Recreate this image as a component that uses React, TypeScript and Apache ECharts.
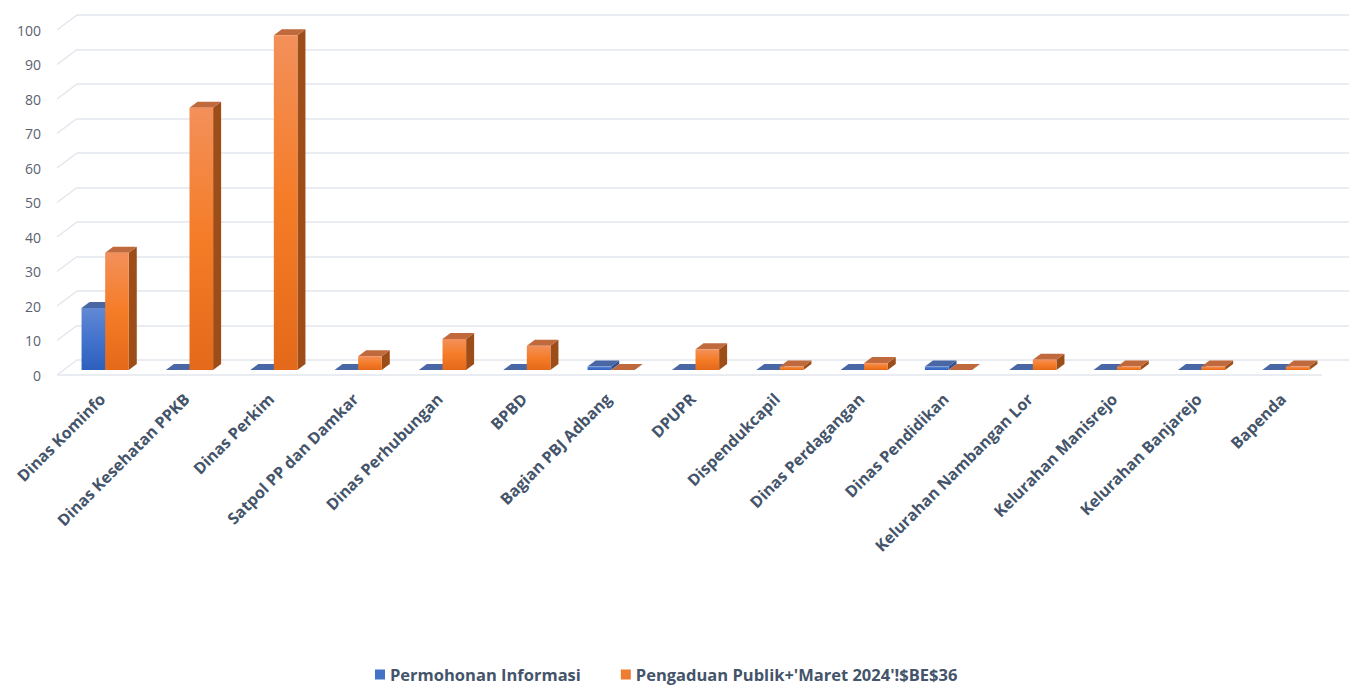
import React, { useEffect, useRef } from "react";
import * as echarts from "echarts";

const categories = [
  "Dinas Kominfo",
  "Dinas Kesehatan PPKB",
  "Dinas Perkim",
  "Satpol PP dan Damkar",
  "Dinas Perhubungan",
  "BPBD",
  "Bagian PBJ Adbang",
  "DPUPR",
  "Dispendukcapil",
  "Dinas Perdagangan",
  "Dinas Pendidikan",
  "Kelurahan Nambangan Lor",
  "Kelurahan Manisrejo",
  "Kelurahan Banjarejo",
  "Bapenda",
];
const permohonan = [18, 0, 0, 0, 0, 0, 1, 0, 0, 0, 1, 0, 0, 0, 0];
const pengaduan = [34, 76, 97, 4, 9, 7, 0, 6, 1, 2, 0, 3, 1, 1, 1];
const yTicks = [0, 10, 20, 30, 40, 50, 60, 70, 80, 90, 100];
const seriesNames = ["Permohonan Informasi", "Pengaduan Publik+'Maret 2024'!$BE$36"];

const GRID_COLOR = "#e2e6ed";
const DX = 8;
const DY = -6;

type Palette = { legend: string; front: [string, string, string]; side: string; top: string };
const BLUE: Palette = {
  legend: "#4472c4",
  front: ["#6289d4", "#4373cc", "#2d5fbd"],
  side: "#2f4f8e",
  top: "#4a67a5",
};
const ORANGE: Palette = {
  legend: "#ed7d31",
  front: ["#f3905a", "#f57c27", "#e4691a"],
  side: "#9c4d18",
  top: "#c0693d",
};

function makeBarRenderer(pal: Palette, left: boolean) {
  return (params: any, api: any) => {
    const idx = api.value(0);
    const v = api.value(1);
    const base = api.coord([idx, 0]);
    const top = api.coord([idx, v]);
    const band = api.size([1, 0])[0];
    const w = band * 0.28;
    const x0 = left ? base[0] - w : base[0];
    const yT = top[1];
    const yB = base[1];
    return {
      type: "group",
      children: [
        {
          type: "polygon",
          shape: {
            points: [
              [x0 + w, yT],
              [x0 + w + DX, yT + DY],
              [x0 + w + DX, yB + DY],
              [x0 + w, yB],
            ],
          },
          style: { fill: pal.side },
        },
        {
          type: "polygon",
          shape: {
            points: [
              [x0, yT],
              [x0 + DX, yT + DY],
              [x0 + w + DX, yT + DY],
              [x0 + w, yT],
            ],
          },
          style: { fill: pal.top },
        },
        {
          type: "rect",
          shape: { x: x0, y: yT, width: w, height: Math.max(0, yB - yT) },
          style: {
            fill: new echarts.graphic.LinearGradient(0, 0, 0, 1, [
              { offset: 0, color: pal.front[0] },
              { offset: 0.5, color: pal.front[1] },
              { offset: 1, color: pal.front[2] },
            ]),
          },
        },
      ],
    };
  };
}

export default function App() {
  const ref = useRef<HTMLDivElement>(null);
  useEffect(() => {
    if (!ref.current) return;
    const chart = echarts.init(ref.current, null, { renderer: "svg" });
    const font = "'Open Sans', 'Noto Sans', sans-serif";
    chart.setOption({
      animation: false,
      backgroundColor: "#ffffff",
      textStyle: { fontFamily: font },
      grid: [
        { left: 77, right: 0, top: 15, bottom: 326 },
        { left: 57, right: 27, top: 30, bottom: 311 },
        { left: 63, right: 21, top: 25, bottom: 316 },
      ],
      xAxis: [
        { gridIndex: 0, type: "value", min: 0, max: 1, show: false },
        { gridIndex: 1, type: "value", min: 0, max: 1, show: false },
        {
          gridIndex: 2,
          type: "category",
          data: categories,
          axisLine: { show: false },
          axisTick: { show: false },
          axisLabel: {
            rotate: 45,
            interval: 0,
            margin: 12,
            padding: [0, 12, 0, 0],
            verticalAlign: "top",
            color: "#44546a",
            fontSize: 16,
            fontWeight: "bold",
            fontFamily: font,
          },
        },
      ],
      yAxis: [
        {
          gridIndex: 0,
          type: "value",
          min: 0,
          max: 100,
          interval: 10,
          axisLabel: { show: false },
          axisLine: { show: false },
          axisTick: { show: false },
          splitLine: { show: true, lineStyle: { color: GRID_COLOR, width: 1.5 } },
        },
        {
          gridIndex: 1,
          type: "value",
          min: 0,
          max: 100,
          interval: 10,
          axisLine: { show: false },
          axisTick: { show: false },
          splitLine: { show: false },
          axisLabel: { color: "#5b6270", fontSize: 14, margin: 16, fontFamily: font },
        },
        {
          gridIndex: 2,
          type: "value",
          min: 0,
          max: 100,
          interval: 10,
          show: false,
          splitLine: { show: false },
        },
      ],
      legend: {
        data: seriesNames,
        top: 661,
        left: 370,
        itemWidth: 10,
        itemHeight: 10,
        itemGap: 40,
        icon: "rect",
        textStyle: { color: "#44546a", fontSize: 16.5, fontWeight: "bold", fontFamily: font },
      },
      series: [
        {
          type: "custom",
          name: "diagonals",
          xAxisIndex: 1,
          yAxisIndex: 1,
          silent: true,
          data: yTicks.map((v) => [0, v]),
          renderItem: (params: any, api: any) => {
            const p = api.coord([0, api.value(1)]);
            return {
              type: "line",
              shape: { x1: p[0], y1: p[1], x2: p[0] + 20, y2: p[1] - 15 },
              style: { stroke: GRID_COLOR, lineWidth: 1.5 },
            };
          },
        },
        {
          type: "custom",
          name: "floor",
          xAxisIndex: 1,
          yAxisIndex: 1,
          silent: true,
          data: [[0, 0]],
          renderItem: (params: any, api: any) => {
            const a = api.coord([0, 0]);
            const b = api.coord([1, 0]);
            return {
              type: "line",
              shape: { x1: a[0], y1: a[1], x2: b[0], y2: b[1] },
              style: { stroke: GRID_COLOR, lineWidth: 1.5 },
            };
          },
        },
        {
          type: "custom",
          name: seriesNames[0],
          xAxisIndex: 2,
          yAxisIndex: 2,
          itemStyle: { color: BLUE.legend },
          data: permohonan.map((v, i) => [i, v]),
          renderItem: makeBarRenderer(BLUE, true),
        },
        {
          type: "custom",
          name: seriesNames[1],
          xAxisIndex: 2,
          yAxisIndex: 2,
          itemStyle: { color: ORANGE.legend },
          data: pengaduan.map((v, i) => [i, v]),
          renderItem: makeBarRenderer(ORANGE, false),
        },
      ],
    });
    return () => chart.dispose();
  }, []);
  return (
    <div
      ref={ref}
      style={{ position: "fixed", left: 0, top: 0, width: 1349, height: 686, background: "#fff" }}
    />
  );
}
